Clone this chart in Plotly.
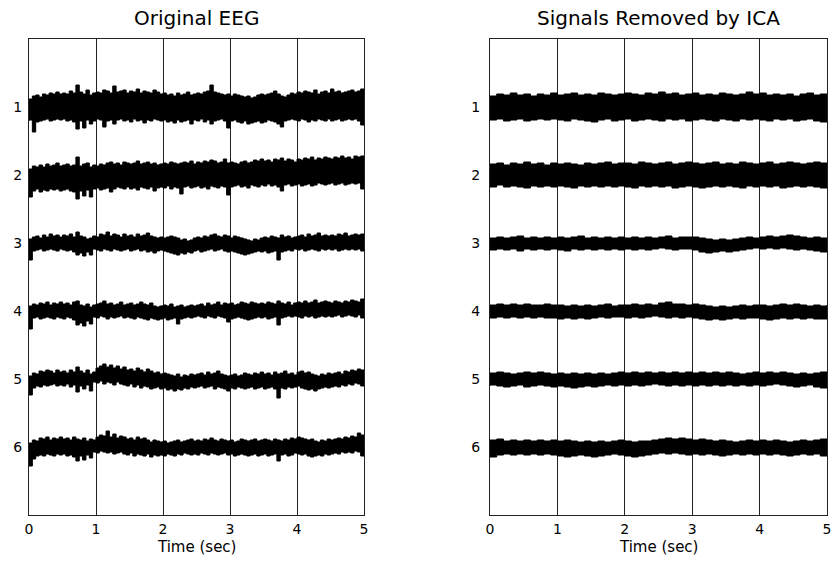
import numpy as np
import plotly.graph_objects as go

# ---------------- data (amplitudes in µV, positive = up) ----------------
# Envelope of each channel trace (upper and lower edge),
# sampled every 0.05 s (Original EEG) and every 0.1 s (Signals Removed by ICA).
channels = ["1", "2", "3", "4", "5", "6"]
x_ticks = [0, 1, 2, 3, 4, 5]
uv_per_channel = 68.0   # vertical spacing between channel baselines

eeg_upper = [
    [8, 11, 12, 10, 13, 12, 14, 13, 15, 13, 14, 13, 16, 14, 22, 15, 13, 17, 12, 14,
     15, 14, 17, 16, 14, 21, 15, 16, 17, 14, 16, 15, 18, 14, 16, 15, 14, 17, 15, 13,
     14, 12, 13, 11, 14, 12, 13, 15, 12, 13, 14, 13, 15, 16, 22, 15, 14, 13, 12, 13,
     11, 13, 12, 11, 10, 11, 9, 10, 12, 13, 12, 13, 14, 16, 13, 11, 10, 12, 14, 13,
     15, 14, 16, 15, 14, 17, 13, 15, 16, 14, 18, 15, 16, 14, 15, 16, 17, 15, 16, 18, 12],
    [6, 9, 8, 10, 8, 11, 9, 10, 12, 9, 10, 11, 9, 10, 18, 9, 11, 12, 8, 10,
     9, 11, 10, 12, 13, 11, 12, 10, 13, 12, 11, 12, 14, 11, 12, 13, 11, 12, 10, 11,
     12, 11, 13, 12, 11, 12, 13, 12, 14, 11, 13, 12, 14, 13, 15, 14, 12, 13, 16, 12,
     13, 12, 11, 13, 14, 12, 13, 15, 14, 16, 14, 15, 13, 16, 15, 17, 14, 16, 15, 13,
     16, 15, 17, 16, 18, 15, 17, 16, 18, 17, 16, 18, 17, 19, 17, 18, 16, 19, 18, 19, 17],
    [4, 6, 7, 5, 8, 6, 9, 7, 8, 6, 8, 7, 9, 6, 11, 7, 6, 4, 5, 7,
     6, 9, 8, 11, 7, 9, 8, 6, 9, 7, 8, 6, 9, 7, 8, 10, 7, 6, 5, 6,
     5, 6, 7, 6, 5, 3, 4, 2, 3, 5, 6, 5, 7, 6, 8, 9, 7, 6, 8, 7,
     5, 7, 6, 5, 4, 3, 2, 4, 3, 5, 6, 5, 7, 6, 5, 8, 6, 7, 5, 6,
     7, 8, 6, 9, 7, 8, 10, 7, 8, 7, 8, 7, 9, 8, 10, 7, 8, 9, 8, 9, 7],
    [5, 7, 6, 8, 7, 9, 6, 8, 7, 9, 7, 8, 6, 9, 10, 6, 5, 7, 4, 6,
     7, 8, 10, 7, 8, 6, 7, 9, 6, 7, 8, 6, 7, 9, 7, 6, 8, 5, 4, 5,
     6, 5, 7, 4, 5, 6, 4, 5, 6, 5, 6, 7, 5, 8, 6, 7, 9, 6, 8, 7,
     8, 6, 7, 9, 8, 7, 9, 8, 7, 8, 7, 9, 8, 7, 10, 8, 7, 9, 6, 8,
     9, 8, 10, 8, 9, 11, 8, 9, 10, 9, 8, 10, 9, 8, 10, 9, 11, 10, 9, 12, 10],
    [3, 6, 5, 8, 7, 9, 8, 6, 9, 7, 8, 6, 9, 7, 12, 8, 6, 9, 5, 7,
     11, 13, 15, 12, 14, 11, 13, 10, 12, 9, 10, 8, 11, 9, 7, 10, 8, 6, 7, 5,
     6, 5, 4, 3, 5, 2, 4, 3, 5, 4, 5, 6, 4, 7, 5, 6, 8, 5, 4, 3,
     4, 5, 3, 4, 6, 5, 4, 6, 5, 7, 5, 6, 4, 7, 5, 6, 8, 5, 6, 4,
     7, 8, 6, 7, 5, 4, 3, 5, 4, 6, 5, 6, 7, 5, 8, 7, 9, 8, 10, 9, 7],
    [4, 7, 6, 9, 8, 10, 7, 9, 8, 10, 8, 9, 7, 10, 8, 7, 9, 6, 8, 7,
     10, 12, 11, 16, 10, 13, 9, 11, 10, 8, 9, 7, 10, 8, 9, 7, 5, 7, 6, 5,
     6, 4, 5, 6, 7, 5, 6, 7, 8, 6, 7, 6, 8, 7, 9, 7, 6, 8, 7, 6,
     7, 5, 6, 8, 7, 6, 7, 8, 6, 7, 8, 7, 6, 8, 7, 6, 8, 7, 9, 8,
     10, 9, 8, 7, 8, 6, 5, 7, 6, 8, 7, 8, 9, 8, 10, 9, 11, 10, 14, 12, 9],
]
eeg_lower = [
    [-14, -13, -25, -15, -14, -13, -12, -14, -13, -12, -13, -12, -14, -13, -15, -22, -14, -21, -13, -17,
     -14, -12, -13, -20, -14, -13, -17, -13, -12, -14, -13, -15, -12, -14, -13, -16, -13, -14, -12, -13,
     -14, -13, -15, -14, -16, -13, -15, -14, -13, -17, -13, -14, -12, -15, -13, -17, -14, -13, -12, -14,
     -21, -14, -13, -15, -16, -14, -17, -16, -15, -14, -16, -15, -13, -14, -15, -17, -20, -14, -13, -12,
     -13, -14, -12, -13, -15, -13, -14, -12, -13, -14, -12, -14, -13, -12, -14, -13, -12, -13, -12, -14, -18],
    [-15, -22, -16, -14, -17, -15, -16, -14, -15, -14, -16, -15, -14, -16, -17, -24, -16, -21, -15, -22,
     -14, -13, -15, -14, -13, -17, -14, -12, -13, -14, -12, -14, -13, -15, -12, -13, -14, -12, -16, -13,
     -12, -13, -11, -14, -12, -13, -19, -12, -11, -13, -12, -11, -13, -12, -14, -11, -12, -13, -11, -12,
     -20, -12, -11, -10, -12, -11, -13, -10, -11, -12, -10, -11, -9, -11, -10, -12, -16, -10, -9, -11,
     -10, -9, -11, -10, -9, -11, -10, -8, -9, -10, -9, -8, -10, -9, -8, -10, -9, -8, -9, -8, -14],
    [-7, -17, -8, -7, -6, -8, -7, -6, -7, -8, -6, -7, -8, -7, -9, -12, -10, -13, -9, -12,
     -6, -7, -8, -6, -7, -8, -6, -7, -8, -7, -6, -8, -7, -6, -8, -7, -9, -8, -10, -8,
     -7, -8, -9, -10, -11, -12, -10, -11, -9, -10, -8, -7, -9, -8, -7, -6, -8, -7, -6, -8,
     -9, -8, -9, -10, -11, -12, -11, -10, -9, -8, -9, -8, -10, -9, -8, -17, -9, -8, -7, -8,
     -6, -7, -6, -8, -7, -6, -7, -8, -6, -7, -6, -7, -6, -8, -7, -6, -7, -6, -7, -6, -8],
    [-6, -18, -7, -6, -8, -7, -6, -7, -8, -6, -7, -8, -6, -7, -9, -14, -12, -15, -10, -13,
     -6, -7, -5, -6, -8, -6, -7, -6, -5, -7, -6, -7, -8, -6, -7, -8, -9, -7, -8, -9,
     -8, -7, -9, -8, -7, -13, -8, -7, -6, -7, -6, -5, -6, -7, -5, -6, -7, -5, -6, -7,
     -11, -8, -7, -6, -7, -8, -9, -8, -7, -6, -7, -6, -8, -7, -6, -14, -7, -6, -5, -6,
     -5, -6, -7, -5, -6, -5, -7, -6, -5, -6, -5, -6, -5, -4, -6, -5, -4, -5, -6, -4, -7],
    [-8, -16, -9, -7, -8, -6, -7, -6, -5, -7, -6, -7, -5, -8, -6, -13, -7, -10, -6, -12,
     -3, -4, -2, -5, -3, -4, -6, -3, -5, -6, -7, -5, -8, -6, -9, -7, -8, -10, -9, -8,
     -10, -9, -11, -10, -12, -10, -11, -9, -10, -8, -9, -8, -7, -9, -8, -7, -10, -8, -9, -10,
     -12, -9, -10, -8, -9, -10, -9, -8, -10, -9, -8, -10, -9, -8, -10, -19, -9, -10, -8, -9,
     -8, -7, -9, -10, -11, -10, -12, -10, -9, -8, -9, -8, -7, -8, -6, -7, -5, -6, -4, -5, -7],
    [-14, -19, -12, -9, -8, -9, -7, -8, -9, -7, -8, -7, -9, -8, -10, -14, -9, -13, -8, -11,
     -5, -6, -4, -5, -6, -5, -7, -6, -5, -7, -8, -6, -9, -7, -8, -9, -7, -10, -8, -9,
     -8, -9, -7, -8, -9, -7, -8, -6, -7, -8, -7, -8, -6, -7, -8, -6, -7, -8, -7, -6,
     -8, -7, -9, -8, -7, -8, -9, -8, -7, -9, -8, -7, -9, -8, -7, -14, -8, -7, -9, -8,
     -6, -7, -8, -7, -9, -10, -9, -8, -9, -7, -8, -7, -6, -7, -5, -6, -5, -6, -4, -5, -9],
]

ica_upper = [
    [11, 13, 12, 14, 12, 13, 11, 13, 12, 14, 12, 13, 14, 12, 13, 12, 14, 13, 12, 13,
     14, 13, 12, 14, 13, 15, 13, 14, 12, 13, 14, 12, 13, 12, 14, 13, 12, 13, 15, 13,
     14, 12, 13, 12, 13, 11, 13, 14, 12, 13, 12],
    [11, 12, 10, 12, 11, 13, 11, 12, 10, 12, 11, 12, 11, 10, 12, 11, 12, 13, 11, 12,
     12, 11, 13, 12, 11, 12, 13, 11, 12, 13, 12, 11, 12, 13, 11, 12, 11, 13, 12, 11,
     12, 13, 11, 12, 13, 12, 11, 12, 13, 12, 11],
    [5, 6, 5, 6, 7, 5, 6, 5, 6, 5, 6, 5, 6, 7, 5, 6, 5, 6, 5, 6,
     5, 6, 5, 6, 5, 6, 7, 5, 6, 6, 6, 5, 4, 3, 4, 3, 4, 5, 6, 5,
     6, 7, 6, 7, 8, 7, 6, 5, 6, 5, 5],
    [6, 7, 6, 7, 6, 7, 6, 6, 7, 6, 6, 5, 6, 5, 6, 5, 6, 7, 5, 6,
     6, 7, 6, 7, 6, 8, 9, 7, 7, 6, 7, 6, 5, 4, 5, 4, 5, 6, 5, 6,
     6, 5, 6, 7, 6, 7, 6, 5, 6, 5, 6],
    [6, 7, 6, 5, 6, 7, 6, 7, 6, 5, 6, 5, 6, 5, 6, 5, 6, 5, 6, 7,
     6, 7, 6, 7, 6, 7, 6, 7, 6, 7, 6, 7, 6, 7, 6, 7, 6, 5, 6, 7,
     6, 7, 6, 7, 6, 5, 6, 5, 6, 7, 6],
    [7, 8, 6, 7, 6, 7, 6, 7, 6, 7, 6, 7, 6, 5, 6, 5, 6, 5, 6, 7,
     6, 5, 6, 6, 7, 8, 9, 8, 9, 8, 7, 8, 7, 6, 7, 6, 5, 6, 7, 6,
     7, 6, 7, 6, 5, 6, 7, 6, 7, 8, 7],
]
ica_lower = [
    [-12, -13, -12, -14, -13, -12, -14, -13, -12, -13, -12, -13, -14, -12, -13, -14, -15, -13, -12, -14,
     -13, -12, -14, -13, -12, -13, -14, -12, -13, -12, -14, -13, -12, -13, -14, -12, -13, -14, -12, -13,
     -12, -13, -14, -12, -13, -12, -14, -13, -12, -14, -15],
    [-11, -12, -10, -12, -11, -12, -13, -11, -12, -11, -12, -11, -12, -13, -11, -12, -11, -12, -11, -12,
     -11, -12, -13, -11, -12, -11, -12, -11, -13, -12, -11, -12, -13, -12, -11, -12, -11, -12, -13, -11,
     -12, -11, -12, -11, -13, -12, -11, -12, -11, -12, -13],
    [-6, -7, -6, -7, -6, -8, -6, -7, -6, -7, -6, -7, -8, -6, -7, -6, -7, -6, -7, -6,
     -7, -6, -7, -6, -7, -6, -5, -6, -7, -6, -6, -7, -9, -10, -9, -8, -9, -8, -7, -6,
     -5, -6, -5, -6, -5, -6, -7, -6, -7, -8, -9],
    [-6, -7, -6, -7, -6, -7, -6, -7, -6, -7, -7, -8, -7, -8, -7, -8, -7, -6, -7, -6,
     -6, -7, -6, -7, -6, -5, -6, -7, -6, -7, -6, -7, -8, -9, -8, -9, -8, -7, -8, -7,
     -7, -8, -9, -8, -7, -8, -7, -8, -7, -8, -8],
    [-7, -6, -7, -8, -7, -6, -8, -7, -6, -7, -8, -7, -8, -9, -8, -7, -8, -7, -6, -7,
     -6, -7, -6, -7, -6, -5, -6, -7, -6, -7, -6, -7, -6, -7, -6, -7, -6, -7, -6, -7,
     -6, -7, -6, -5, -6, -7, -8, -7, -6, -8, -9],
    [-8, -10, -8, -7, -8, -7, -8, -7, -8, -7, -8, -9, -10, -9, -8, -9, -10, -9, -8, -7,
     -8, -9, -10, -9, -8, -7, -6, -7, -6, -7, -8, -7, -8, -7, -8, -9, -8, -7, -8, -7,
     -8, -7, -8, -7, -8, -9, -8, -7, -8, -7, -9],
]
duration_s = 5.0

# ---------------- figure ----------------
W, H = 833, 563
fig = go.Figure()
n_ch = len(channels)


def add_band(upper, lower, k, xref, yref):
    tu = np.linspace(0, duration_s, len(upper))
    tl = np.linspace(0, duration_s, len(lower))
    base = n_ch + 1 - (k + 1)
    yu = base + np.asarray(upper, float) / uv_per_channel
    yl = base + np.asarray(lower, float) / uv_per_channel
    xs = np.concatenate([tu, tl[::-1]])
    ys = np.concatenate([yu, yl[::-1]])
    fig.add_trace(go.Scatter(
        x=xs, y=ys, mode="lines", fill="toself", fillcolor="black",
        line=dict(color="black", width=1, shape="hv"), hoverinfo="skip",
        showlegend=False, xaxis=xref, yaxis=yref))


for k in range(n_ch):
    add_band(eeg_upper[k], eeg_lower[k], k, "x", "y")
    add_band(ica_upper[k], ica_lower[k], k, "x2", "y2")

ytop = 1 - 39 / H
ybot = 1 - 515 / H
font = "DejaVu Sans, Liberation Sans, Arial, sans-serif"
axis_common = dict(
    showline=True, mirror=True, linecolor="#222", linewidth=1,
    zeroline=False, ticks="", fixedrange=True, automargin=False,
    tickfont=dict(family=font, size=14, color="black"),
)
fig.update_layout(
    width=W, height=H, margin=dict(l=0, r=0, t=0, b=0),
    paper_bgcolor="white", plot_bgcolor="white",
    xaxis=dict(domain=[29 / W, 364 / W], range=[0, duration_s], tickvals=x_ticks,
               showgrid=True, gridcolor="#222", gridwidth=1, anchor="y",
               ticklabelstandoff=1, **axis_common),
    yaxis=dict(domain=[ybot, ytop], range=[0, n_ch + 1],
               tickvals=[n_ch + 1 - (i + 1) for i in range(n_ch)], ticktext=channels,
               showgrid=False, anchor="x", ticklabelstandoff=3, **axis_common),
    xaxis2=dict(domain=[490 / W, 827 / W], range=[0, duration_s], tickvals=x_ticks,
                showgrid=True, gridcolor="#222", gridwidth=1, anchor="y2",
                ticklabelstandoff=1, **axis_common),
    yaxis2=dict(domain=[ybot, ytop], range=[0, n_ch + 1],
                tickvals=[n_ch + 1 - (i + 1) for i in range(n_ch)], ticktext=channels,
                showgrid=False, anchor="x2", ticklabelstandoff=6, **axis_common),
)

ann = []
for xc, title in [((29 + 364) / 2 / W, "Original EEG"),
                  ((490 + 827) / 2 / W, "Signals Removed by ICA")]:
    ann.append(dict(x=xc, y=1 - 18 / H, xref="paper", yref="paper", text=title,
                    showarrow=False, xanchor="center", yanchor="middle",
                    font=dict(family=font, size=20, color="black")))
    ann.append(dict(x=xc, y=1 - 547 / H, xref="paper", yref="paper", text="Time (sec)",
                    showarrow=False, xanchor="center", yanchor="middle",
                    font=dict(family=font, size=15, color="black")))
fig.update_layout(annotations=ann)

fig.write_html("out.html")
